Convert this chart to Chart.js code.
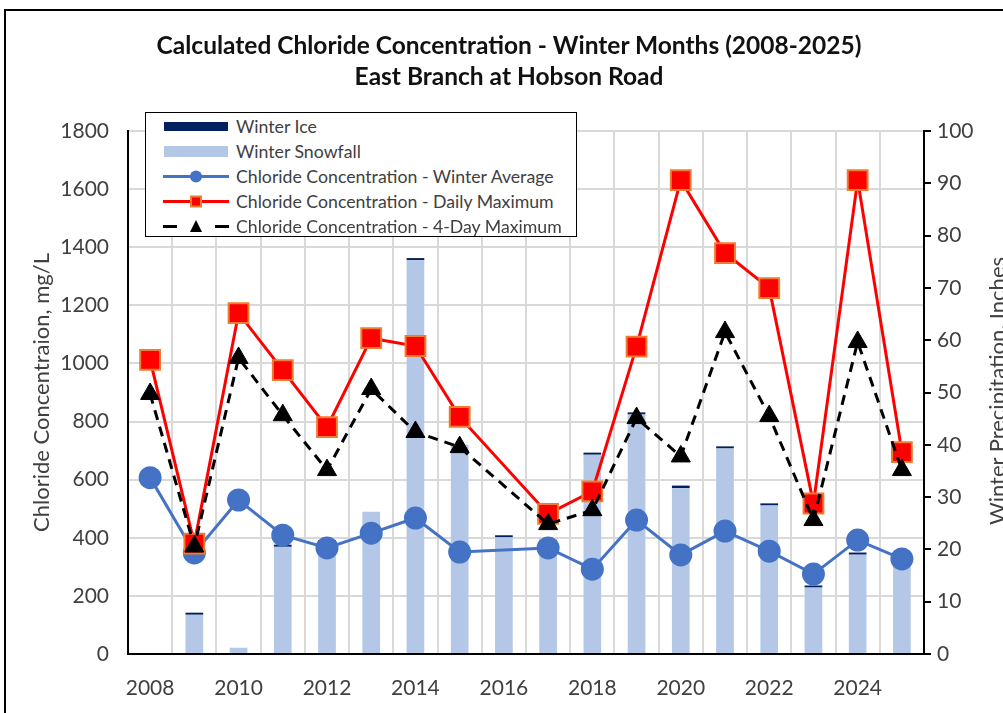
<!DOCTYPE html>
<html>
<head>
<meta charset="utf-8">
<script src="https://cdn.jsdelivr.net/npm/chart.js@4.4.1/dist/chart.umd.min.js"></script>
<style>
  html, body { margin: 0; padding: 0; background: #fff; overflow: hidden; }
  body { width: 1003px; height: 713px; position: relative; font-family: Lato, sans-serif; }
  #frame { position: absolute; left: 4px; top: 9px; width: 1100px; height: 800px; border: 2px solid #000; }
  #chart { position: absolute; left: 0; top: 0; }
  #title { position: absolute; left: 0; top: 29px; width: 1018px; text-align: center; font-weight: bold;
           font-size: 24.5px; line-height: 31px; color: #111; }
  #legend { position: absolute; left: 145px; top: 112px; width: 430px; height: 123px;
            border: 1.5px solid #000; background: #fff; }
  .row { position: absolute; left: 0; width: 430px; height: 25px; }
  .row svg { position: absolute; left: 17px; top: 0; }
  .row span { position: absolute; left: 90px; top: 0; line-height: 25px; font-size: 17.7px; color: #404040; white-space: nowrap; }
  #rightTitle { position: absolute; left: 797px; top: 378px; width: 400px; height: 26px; line-height: 26px;
                text-align: center; font-size: 22px; color: #404040; transform: rotate(-90deg); white-space: nowrap; }
</style>
</head>
<body>
<div id="frame"></div>
<canvas id="chart" width="1003" height="713"></canvas>
<div id="title">Calculated Chloride Concentration - Winter Months (2008-2025)<br>East Branch at Hobson Road</div>
<div id="legend">
  <div class="row" style="top:0.5px">
    <svg width="66" height="25"><rect x="1" y="8" width="64" height="9" fill="#002060"/></svg>
    <span>Winter Ice</span>
  </div>
  <div class="row" style="top:25.5px">
    <svg width="66" height="25"><rect x="1" y="7" width="64" height="11" fill="#B4C7E7"/></svg>
    <span>Winter Snowfall</span>
  </div>
  <div class="row" style="top:50.5px">
    <svg width="66" height="25"><line x1="0" y1="12.5" x2="66" y2="12.5" stroke="#4472C4" stroke-width="3"/><circle cx="33" cy="12.5" r="6" fill="#4472C4"/></svg>
    <span>Chloride Concentration - Winter Average</span>
  </div>
  <div class="row" style="top:75.5px">
    <svg width="66" height="25"><line x1="0" y1="12.5" x2="66" y2="12.5" stroke="#FF0000" stroke-width="3"/><rect x="28" y="7.5" width="10" height="10" fill="#FF0000" stroke="#ED7D31" stroke-width="2"/></svg>
    <span>Chloride Concentration - Daily Maximum</span>
  </div>
  <div class="row" style="top:100.5px">
    <svg width="66" height="25"><line x1="0" y1="12.5" x2="14" y2="12.5" stroke="#000" stroke-width="3"/><line x1="52" y1="12.5" x2="66" y2="12.5" stroke="#000" stroke-width="3"/><polygon points="33,6 39,18 27,18" fill="#000"/></svg>
    <span>Chloride Concentration - 4-Day Maximum</span>
  </div>
</div>
<div id="rightTitle">Winter Precipitation, Inches</div>
<script>
const years = ['2008', '2009', '2010', '2011', '2012', '2013', '2014', '2015', '2016',
               '2017', '2018', '2019', '2020', '2021', '2022', '2023', '2024', '2025'];

// precipitation, inches (right axis)
const snowfall = [0, 7.5, 1.2, 20.5, 21.5, 27.2, 75.3, 40, 22.3, 22, 38.1, 45.8, 31.7, 39.3, 28.4, 12.7, 19, 17.5];
const ice = [0, 0.4, 0, 0.4, 0.3, 0, 0.4, 0, 0.4, 0, 0.4, 0.4, 0.5, 0.4, 0.4, 0.4, 0.4, 0];

// chloride, mg/L (left axis), 2016 has no value
const winterAvg = [607, 348, 530, 409, 365, 416, 468, 351, null, 365, 292, 461, 341, 423, 354, 275, 392, 327];
const dailyMax = [1012, 380, 1173, 977, 781, 1087, 1060, 816, null, 482, 560, 1058, 1631, 1380, 1259, 518, 1631, 695];
const fourDayMax = [895, 370, 1019, 822, 633, 912, 764, 712, null, 447, 495, 812, 680, 1108, 819, 461, 1074, 633];

const tickFont = { family: 'Lato', size: 21 };
const tickColor = '#404040';

new Chart(document.getElementById('chart'), {
    data: {
        labels: years,
        datasets: [
            {
                type: 'line',
                label: 'Chloride Concentration - 4-Day Maximum',
                data: fourDayMax,
                yAxisID: 'y',
                borderColor: '#000',
                borderWidth: 3,
                borderDash: [10, 7],
                pointStyle: 'triangle',
                pointRadius: 11,
                pointBackgroundColor: '#000',
                pointBorderColor: '#000',
                pointBorderWidth: 1,
                spanGaps: true,
                tension: 0,
                order: 1
            },
            {
                type: 'line',
                label: 'Chloride Concentration - Daily Maximum',
                data: dailyMax,
                yAxisID: 'y',
                borderColor: '#FF0000',
                borderWidth: 3,
                pointStyle: 'rect',
                pointRadius: 14,
                pointBackgroundColor: '#FF0000',
                pointBorderColor: '#ED7D31',
                pointBorderWidth: 2,
                spanGaps: true,
                tension: 0,
                order: 2
            },
            {
                type: 'line',
                label: 'Chloride Concentration - Winter Average',
                data: winterAvg,
                yAxisID: 'y',
                borderColor: '#4472C4',
                borderWidth: 3,
                pointRadius: 10,
                pointBackgroundColor: '#4472C4',
                pointBorderColor: '#4472C4',
                spanGaps: true,
                tension: 0,
                order: 3
            },
            {
                type: 'bar',
                label: 'Winter Snowfall',
                data: snowfall,
                yAxisID: 'y2',
                backgroundColor: '#B4C7E7',
                barPercentage: 0.4,
                categoryPercentage: 1,
                stack: 'precip',
                order: 4
            },
            {
                type: 'bar',
                label: 'Winter Ice',
                data: ice,
                yAxisID: 'y2',
                backgroundColor: '#002060',
                barPercentage: 0.4,
                categoryPercentage: 1,
                stack: 'precip',
                order: 5
            }
        ]
    },
    options: {
        responsive: false,
        animation: false,
        layout: { padding: { top: 131, left: 0, right: 0, bottom: 0 } },
        scales: {
            x: {
                stacked: true,
                afterFit: scale => { scale.height = 59; },
                grid: { color: '#d9d9d9', lineWidth: 2, offset: true, drawTicks: false },
                border: { color: '#000', width: 2 },
                ticks: {
                    autoSkip: false,
                    maxRotation: 0,
                    padding: 22,
                    font: tickFont,
                    color: tickColor,
                    callback: function(value, index) {
                        return index % 2 === 0 ? years[index] : '';
                    }
                }
            },
            y: {
                position: 'left',
                min: 0,
                max: 1800,
                afterFit: scale => { scale.width = 128; },
                grid: { color: '#d9d9d9', lineWidth: 2, drawTicks: false },
                border: { color: '#000', width: 2 },
                ticks: {
                    stepSize: 200,
                    padding: 19,
                    font: tickFont,
                    color: tickColor,
                    callback: value => String(value)
                },
                title: {
                    display: true,
                    text: 'Chloride Concentraion, mg/L',
                    font: { family: 'Lato', size: 22 },
                    color: tickColor,
                    padding: { top: 29, bottom: 0 }
                }
            },
            y2: {
                position: 'right',
                stacked: true,
                min: 0,
                max: 100,
                afterFit: scale => { scale.width = 79; },
                grid: { drawOnChartArea: false, color: '#000', lineWidth: 2, tickLength: 7 },
                border: { color: '#000', width: 2 },
                ticks: { stepSize: 10, padding: 6, font: tickFont, color: tickColor }
            }
        },
        plugins: {
            legend: { display: false },
            tooltip: { enabled: false }
        }
    }
});
</script>
</body>
</html>
